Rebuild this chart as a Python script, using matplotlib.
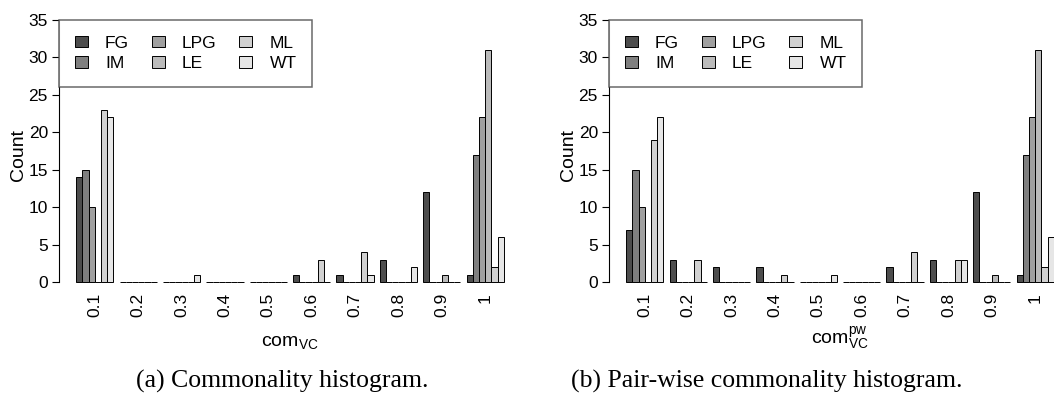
import numpy as np
import matplotlib
matplotlib.use("Agg")
import matplotlib.pyplot as plt

plt.rcParams['font.family'] = ['Liberation Sans', 'DejaVu Sans']

# commonality bins on the x axis
bins = ['0.1', '0.2', '0.3', '0.4', '0.5', '0.6', '0.7', '0.8', '0.9', '1']
systems = ['FG', 'IM', 'LPG', 'LE', 'ML', 'WT']

# counts per system for commonality com_VC
com_fg = [14, 0, 0, 0, 0, 1, 1, 3, 12, 1]
com_im = [15, 0, 0, 0, 0, 0, 0, 0, 0, 17]
com_lpg = [10, 0, 0, 0, 0, 0, 0, 0, 0, 22]
com_le = [0, 0, 0, 0, 0, 0, 0, 0, 1, 31]
com_ml = [23, 0, 0, 0, 0, 3, 4, 0, 0, 2]
com_wt = [22, 0, 1, 0, 0, 0, 1, 2, 0, 6]

# counts per system for pair-wise commonality
pw_fg = [7, 3, 2, 2, 0, 0, 2, 3, 12, 1]
pw_im = [15, 0, 0, 0, 0, 0, 0, 0, 0, 17]
pw_lpg = [10, 0, 0, 0, 0, 0, 0, 0, 0, 22]
pw_le = [0, 0, 0, 0, 0, 0, 0, 0, 1, 31]
pw_ml = [19, 3, 0, 1, 0, 0, 4, 3, 0, 2]
pw_wt = [22, 0, 0, 0, 1, 0, 0, 3, 0, 6]

# gray.colors(6) style ramp
colors = ['#4d4d4d', '#7f7f7f', '#a0a0a0', '#bbbbbb', '#d1d1d1', '#e6e6e6']

fig = plt.figure(figsize=(10.54, 4.01), dpi=100)
W, H = 1054, 401


def histo(ax, series, xlab, label_y):
    n_sys = len(series)
    group = n_sys + 1  # one bar-width gap before each group
    for j, (vals, c, name) in enumerate(zip(series, colors, systems)):
        x = 1 + group * np.arange(len(bins)) + j
        ax.bar(x, vals, width=1, align='edge', color=c, edgecolor='black',
               linewidth=0.7, label=name, clip_on=False)
    ax.set_xlim(-1.76, 72.76)
    ax.set_ylim(0, 36)
    centers = 1 + group * np.arange(len(bins)) + n_sys / 2
    ax.set_xticks(centers)
    ax.set_xticklabels(bins, rotation=90, fontsize=12.5)
    ax.tick_params(axis='x', length=0, pad=8)
    ax.set_yticks(range(0, 36, 5))
    ax.tick_params(axis='y', labelsize=12.5, length=5, pad=3, width=0.8)
    for s in ['top', 'right', 'bottom']:
        ax.spines[s].set_visible(False)
    ax.spines['left'].set_bounds(0, 35)
    ax.spines['left'].set_linewidth(0.8)
    ax.set_ylabel('Count', fontsize=14)
    ax.yaxis.set_label_coords(-0.07, 0.47)
    ax.set_xlabel(xlab, fontsize=14, va='baseline')
    ax.xaxis.set_label_coords(0.5, label_y)
    leg = ax.legend(loc='upper left', bbox_to_anchor=(-1.76, 35),
                    bbox_transform=ax.transData, borderaxespad=0,
                    ncol=3, fontsize=12.5, frameon=True, fancybox=False,
                    handlelength=0.75, handleheight=0.65, handletextpad=1.0,
                    columnspacing=1.3, labelspacing=0.32, borderpad=0.9)
    frame = leg.get_frame()
    frame.set_edgecolor('#444444')
    frame.set_linewidth(1.1)
    frame.set_boxstyle('square', pad=0)


ax1 = fig.add_axes([59 / W, (H - 282) / H, 462 / W, 269.5 / H])
histo(ax1, [com_fg, com_im, com_lpg, com_le, com_ml, com_wt],
      r'$\mathregular{com_{VC}}$', (282 - 346) / 269.5)

ax2 = fig.add_axes([609 / W, (H - 282) / H, 462 / W, 269.5 / H])
histo(ax2, [pw_fg, pw_im, pw_lpg, pw_le, pw_ml, pw_wt],
      r'$\mathregular{com_{VC}^{pw}}$', (282 - 344) / 269.5)

fig.text(282 / W, (H - 381) / H, '(a) Commonality histogram.',
         ha='center', va='center', fontsize=18.5, family='Liberation Serif')
fig.text(767 / W, (H - 381) / H, '(b) Pair-wise commonality histogram.',
         ha='center', va='center', fontsize=18.5, family='Liberation Serif')

fig.savefig('out.png', dpi=100)
